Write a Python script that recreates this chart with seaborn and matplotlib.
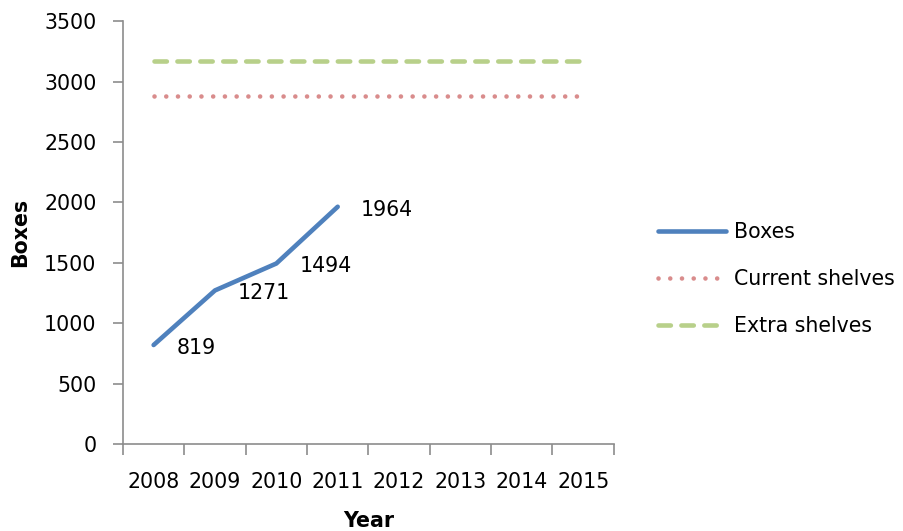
import numpy as np
import pandas as pd
import seaborn as sns
import matplotlib.pyplot as plt

years = ['2008', '2009', '2010', '2011', '2012', '2013', '2014', '2015']
boxes = [819, 1271, 1494, 1964]
current_shelves = [2880] * len(years)
extra_shelves = [3170] * len(years)

sns.set_style('white')
plt.rcParams['font.family'] = ['DejaVu Sans']
plt.rcParams['text.color'] = 'black'
plt.rcParams['axes.labelcolor'] = 'black'
FS = 14.8
GREY = '#8C8C8C'

fig = plt.figure(figsize=(9.04, 5.31), dpi=100)
ax = fig.add_axes([0.136, 0.164, 0.543, 0.796])

pos = np.arange(len(years))
df_boxes = pd.DataFrame({'x': pos[:len(boxes)], 'y': boxes})
df_cur = pd.DataFrame({'x': pos, 'y': current_shelves})
df_extra = pd.DataFrame({'x': pos, 'y': extra_shelves})

sns.lineplot(data=df_boxes, x='x', y='y', ax=ax, color='#4F81BD', lw=3.3,
             solid_capstyle='round', label='Boxes')
sns.lineplot(data=df_cur, x='x', y='y', ax=ax, color='#D98C8C', lw=3.3,
             label='Current shelves')
sns.lineplot(data=df_extra, x='x', y='y', ax=ax, color='#B8D08A', lw=3.3,
             label='Extra shelves')

lines = ax.get_lines()
lines[1].set_linestyle((0, (0.01, 2.55)))
lines[1].set_dash_capstyle('round')
lines[2].set_linestyle((0, (2.7, 2.3)))
lines[2].set_dash_capstyle('round')

# data labels to the right of each point
for x, y in zip(df_boxes['x'], df_boxes['y']):
    ax.annotate(f'{y}', (x, y), xytext=(23, -3), textcoords='offset pixels',
                ha='left', va='center', fontsize=FS, color='black')

ax.set_xlim(-0.5, len(years) - 0.5)
ax.set_ylim(0, 3500)
ax.set_yticks(range(0, 3501, 500))
ax.set_xticks(np.arange(-0.5, len(years)), labels=[''] * (len(years) + 1))
ax.set_xticks(pos, labels=years, minor=True)
ax.tick_params(axis='x', which='minor', bottom=True, length=0, pad=20,
               labelsize=FS, labelcolor='black')
ax.tick_params(axis='x', which='major', bottom=True, length=8, width=1.2,
               color=GREY, direction='out')
ax.tick_params(axis='y', left=True, length=7, width=1.2, color=GREY, direction='out',
               labelsize=FS, labelcolor='black', pad=12)

for side in ['top', 'right']:
    ax.spines[side].set_visible(False)
for side in ['left', 'bottom']:
    ax.spines[side].set_color(GREY)
    ax.spines[side].set_linewidth(1.2)

ax.set_xlabel('Year', fontsize=FS, fontweight='bold', labelpad=14)
ax.set_ylabel('Boxes', fontsize=FS, fontweight='bold', labelpad=10)

leg = ax.legend(loc='center left', bbox_to_anchor=(0.728, 0.4746),
                bbox_transform=fig.transFigure, frameon=False, fontsize=FS,
                handlelength=3.3, labelspacing=1.32, handletextpad=0.4,
                borderpad=0, borderaxespad=0)
for t in leg.get_texts():
    t.set_color('black')

fig.savefig('out.png', dpi=100)
